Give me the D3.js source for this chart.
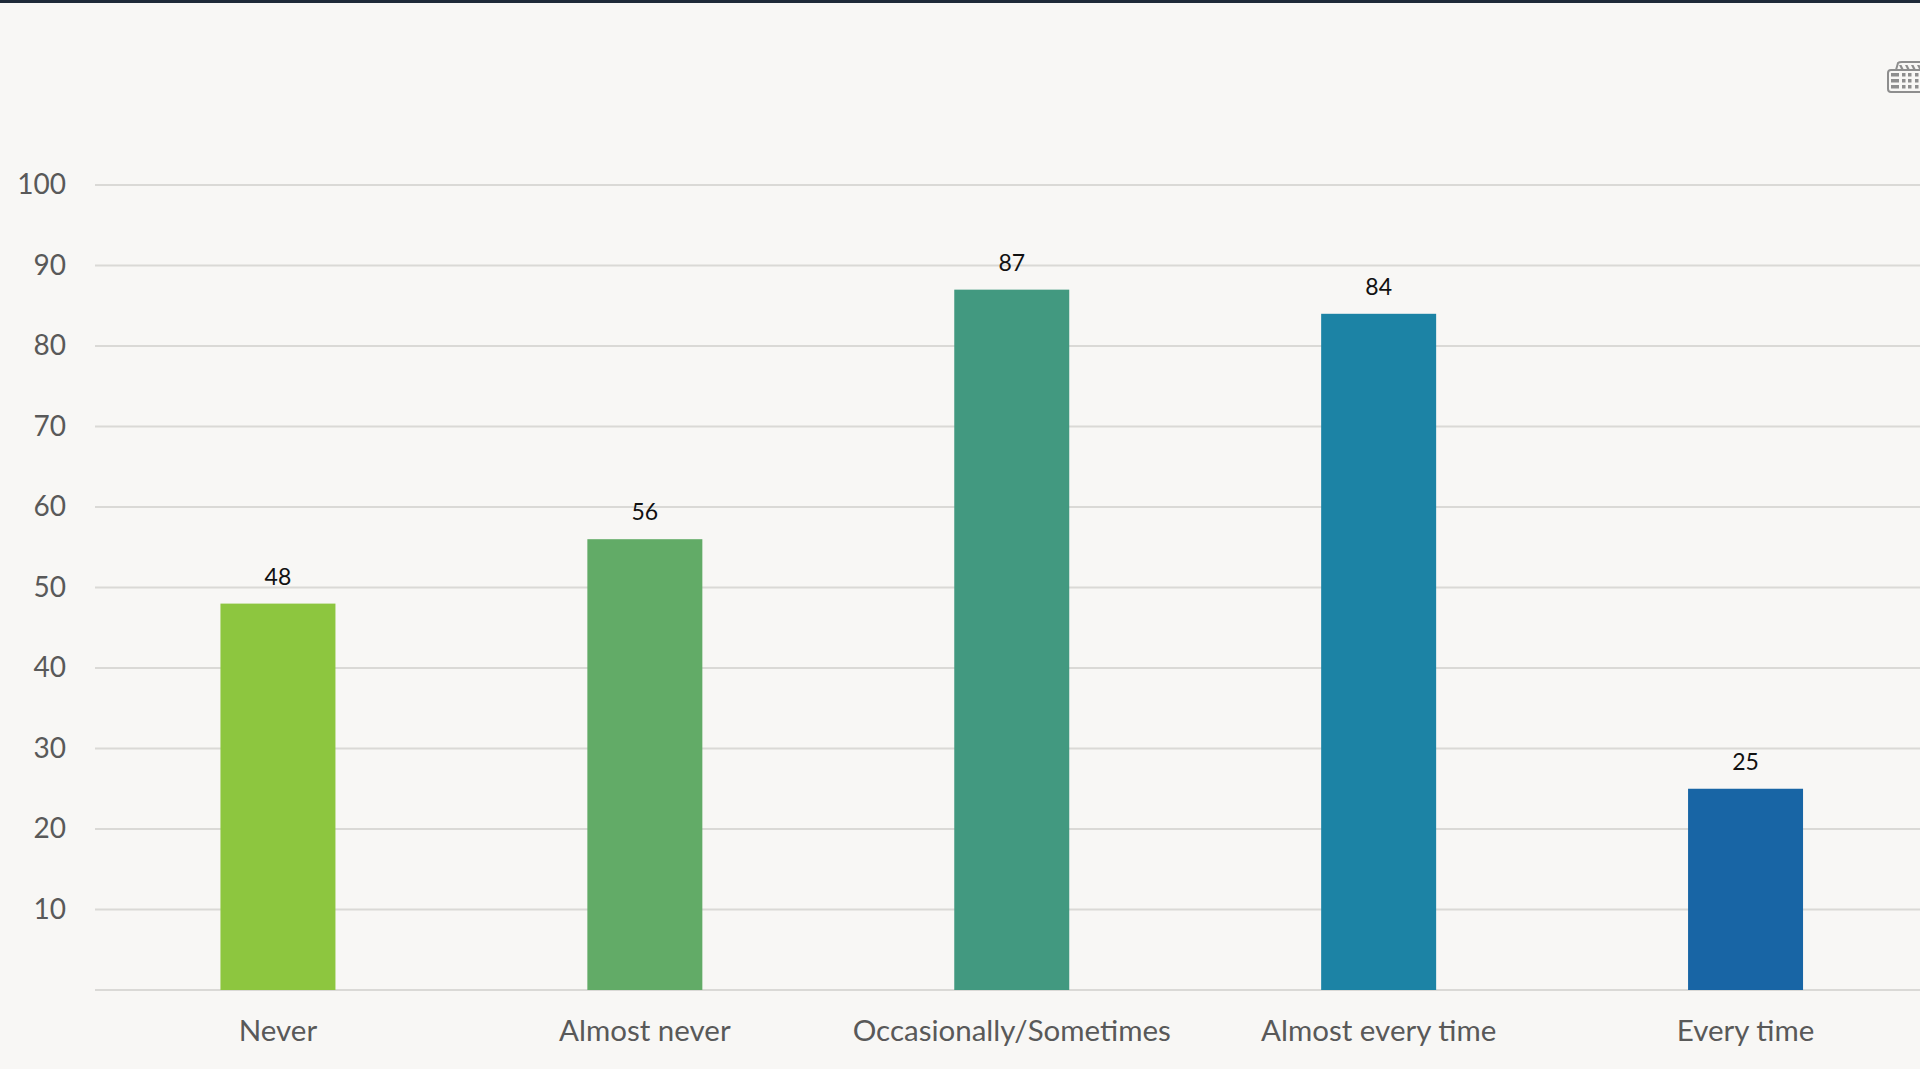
<!DOCTYPE html>
<html><head><meta charset="utf-8">
<script src="https://cdn.jsdelivr.net/npm/d3@7"></script>
<style>
html,body{margin:0;padding:0;background:#f8f7f5;overflow:hidden}
svg{display:block}
text{font-family:Lato,"Open Sans",sans-serif}
</style></head><body>
<script>
const categories=["Never","Almost never","Occasionally/Sometimes","Almost every time","Every time"];
const values=[48,56,87,84,25];
const barColors=["#8dc63f","#62ab67","#429980","#1c83a5","#1865a5"];
const yTicks=[10,20,30,40,50,60,70,80,90,100];

const W=1920,H=1069;
const svg=d3.select("body").append("svg").attr("width",W).attr("height",H);
svg.append("rect").attr("width",W).attr("height",H).attr("fill","#f8f7f5");
svg.append("rect").attr("width",W).attr("height",3).attr("fill","#1f2a38");

const x=d3.scaleBand().domain(categories).range([94.5,1929]).paddingInner(0.6866).paddingOuter(0.3433);
const y=d3.scaleLinear().domain([0,100]).range([990,185]);

const gridG=svg.append("g");
gridG.selectAll("line").data([0,...yTicks]).join("line")
 .attr("x1",95).attr("x2",W).attr("y1",d=>y(d)).attr("y2",d=>y(d))
 .attr("stroke","#dad9d6").attr("stroke-width",2);

const yAxis=svg.append("g").attr("transform","translate(66,0)")
 .call(d3.axisLeft(y).tickValues(yTicks).tickSize(0).tickPadding(0));
yAxis.select(".domain").remove();
yAxis.selectAll("text").attr("fill","#595959").style("font-size","28px").attr("dy","0.32em");

const xAxis=svg.append("g").attr("transform","translate(0,1020)")
 .call(d3.axisBottom(x).tickSize(0).tickPadding(0));
xAxis.select(".domain").remove();
xAxis.selectAll("text").attr("fill","#595959").style("font-size","29.5px").attr("dy","0.71em");

svg.selectAll("rect.bar").data(values).join("rect").attr("class","bar")
 .attr("x",(d,i)=>x(categories[i])).attr("width",x.bandwidth())
 .attr("y",d=>y(d)).attr("height",d=>y(0)-y(d))
 .attr("fill",(d,i)=>barColors[i]);

svg.selectAll("text.val").data(values).join("text").attr("class","val")
 .attr("x",(d,i)=>x(categories[i])+x.bandwidth()/2).attr("y",d=>y(d)-19)
 .attr("text-anchor","middle").attr("fill","#111").style("font-size","23px").text(d=>d);

// keyboard icon, clipped by the right edge
const k=svg.append("g");
k.append("path").attr("d","M1896 70 L1898 63 Q1899 62 1902 62 L1925 62 L1925 92 L1891 92 Q1888 92 1888 89 L1888 73 Q1888 70 1891 70 L1925 70")
 .attr("fill","none").attr("stroke","#8e8e8e").attr("stroke-width",2);
[73,79,85].forEach(yy=>{
  k.append("rect").attr("x",1891).attr("y",yy).attr("width",8).attr("height",3.5).attr("fill","#8e8e8e");
  [1902,1908,1915].forEach(xx=>k.append("rect").attr("x",xx).attr("y",yy).attr("width",3.5).attr("height",3.5).attr("fill","#8e8e8e"));
});
[1899,1905,1911,1917].forEach(xx=>k.append("path").attr("d",`M${xx} 65 l2.5 0 l2 4 l-2.5 0 z`).attr("fill","#8e8e8e"));
</script>
</body></html>
